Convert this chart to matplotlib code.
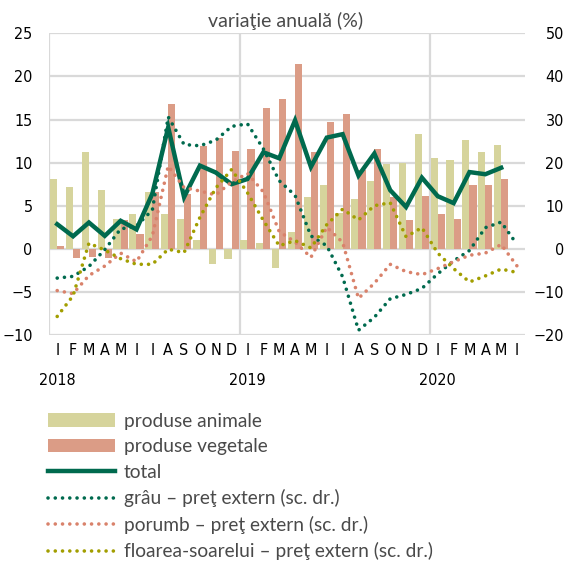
import matplotlib
matplotlib.use('Agg')
import matplotlib.pyplot as plt
import matplotlib.transforms as mtransforms
import numpy as np

# Months Jan 2018 - Jun 2020 (Romanian initials)
months = ["I", "F", "M", "A", "M", "I", "I", "A", "S", "O", "N", "D"] * 2 + ["I", "F", "M", "A", "M", "I"]
years = ["2018", "2019", "2020"]
year_pos = [0, 12, 24]

# left axis (%), Jan 2018 - May 2020
animale = [8.1, 7.2, 11.2, 6.8, 3.5, 4.0, 6.6, 4.0, 3.5, 1.0, -1.8, -1.2,
           1.0, 0.7, -2.2, 1.9, 6.0, 7.4, 4.2, 5.8, 7.9, 9.8, 10.0, 13.3,
           10.5, 10.3, 12.6, 11.2, 12.1, np.nan]
vegetale = [0.3, -1.1, -0.9, -1.1, 3.3, 1.7, 6.6, 16.8, 6.3, 11.9, 12.8, 11.4,
            11.6, 16.3, 17.4, 21.4, 11.2, 14.7, 15.6, 9.1, 11.6, 6.0, 3.3, 6.1,
            4.0, 3.5, 7.4, 7.4, 8.1, np.nan]
total = [2.85, 1.45, 3.05, 1.5, 3.25, 2.25, 6.4, 14.1, 6.0, 9.65, 8.85, 7.5,
         8.1, 11.2, 10.5, 14.9, 9.5, 12.9, 13.3, 8.5, 11.05, 6.8, 4.85, 8.25,
         6.1, 5.3, 8.9, 8.65, 9.4, np.nan]

# right axis (%), Jan 2018 - Jun 2020
grau = [-6.8, -6.4, -4.1, -0.2, 4.6, 5.3, 9.0, 30.6, 24.2, 23.9, 25.2, 28.4,
        29.0, 23.2, 15.8, 12.4, 3.0, 0.7, -6.5, -18.9, -15.9, -11.6, -10.6, -9.2,
        -5.8, -2.8, -0.4, 4.9, 6.2, 1.0]
porumb = [-9.7, -10.4, -6.2, -4.0, -1.0, -3.0, 3.0, 19.2, 14.2, 13.4, 12.5, 15.5,
          17.5, 13.2, 4.0, 1.6, -2.0, 5.0, 1.5, -11.5, -8.0, -3.6, -5.3, -6.0,
          -4.6, -3.0, -1.5, -1.0, 1.0, -4.0]
floarea = [-15.7, -10.9, 1.3, -0.3, -2.3, -3.6, -3.6, -0.1, -0.9, 7.3, 14.1, 18.4,
           13.0, 6.6, 0.7, 1.9, 0.2, 5.6, 9.2, 6.7, 10.0, 10.7, 2.8, 4.9,
           -1.0, -4.6, -7.7, -6.3, -4.7, -5.5]

c_anim = '#D6D49C'
c_veg = '#DB9C86'
c_green = '#006A4E'
c_porumb = '#D9826B'
c_floarea = '#A29E00'
c_grid = '#D9D9D9'
c_text = '#4A4A4A'

tick_font = ['Liberation Sans Narrow', 'DejaVu Sans']
text_font = ['Lato', 'DejaVu Sans']

fig = plt.figure(figsize=(5.71, 5.61), dpi=100)
ax = fig.add_axes([0.0863, 0.4029, 0.9194 - 0.0863, 0.9406 - 0.4029])
ax2 = ax.twinx()

x = np.arange(len(months))
w = 0.45
b1 = ax.bar(x - w / 2, animale, w, color=c_anim, label='produse animale', zorder=2)
b2 = ax.bar(x + w / 2, vegetale, w, color=c_veg, label='produse vegetale', zorder=2)
l0, = ax.plot(x, total, color=c_green, linewidth=3.2, label='total', zorder=4,
              solid_joinstyle='miter')

dot = (0, (0.01, 2.0))
l1, = ax2.plot(x, grau, color=c_green, linewidth=2.6, linestyle=dot, dash_capstyle='round',
               label='grâu – preţ extern (sc. dr.)')
l2, = ax2.plot(x, porumb, color=c_porumb, linewidth=2.6, linestyle=dot, dash_capstyle='round',
               label='porumb – preţ extern (sc. dr.)')
l3, = ax2.plot(x, floarea, color=c_floarea, linewidth=2.6, linestyle=dot, dash_capstyle='round',
               label='floarea-soarelui – preţ extern (sc. dr.)')

ax.set_xlim(-0.5, len(months) - 0.5)
ax.set_ylim(-10, 25)
ax2.set_ylim(-20, 50)
ax.set_yticks(range(-10, 26, 5))
ax2.set_yticks(range(-20, 51, 10))

# grid
for v in range(-10, 26, 5):
    ax.axhline(v, color=c_grid, linewidth=1.6, zorder=0)
for p in year_pos:
    ax.axvline(p - 0.5, color=c_grid, linewidth=1.6, zorder=0)

for a in (ax, ax2):
    for s in a.spines.values():
        s.set_visible(False)
    a.tick_params(length=0)

ax.set_xticks(x)
ax.set_xticklabels(months)
ax.tick_params(axis='x', pad=6)
ax.tick_params(axis='y', pad=12)
ax2.tick_params(axis='y', pad=28)
for lab in ax.get_xticklabels() + ax.get_yticklabels() + ax2.get_yticklabels():
    lab.set_fontfamily(tick_font)
    lab.set_fontstretch('condensed')
    lab.set_fontsize(11.5)
    lab.set_color('black')
for lab in ax2.get_yticklabels():
    lab.set_horizontalalignment('right')

trans = mtransforms.blended_transform_factory(ax.transData, ax.transAxes)
for yr, p in zip(years, year_pos):
    ax.text(p, -0.152, yr, transform=trans, ha='center', va='center',
            fontsize=11.5, family=tick_font, stretch='condensed', color='black')

fig.text(0.50, 0.963, 'variaţie anuală (%)', ha='center', va='center',
         fontsize=14, family=text_font, color=c_text)

leg = fig.legend([b1, b2, l0, l1, l2, l3],
                 [h.get_label() for h in (b1, b2, l0, l1, l2, l3)],
                 loc='upper left', bbox_to_anchor=(0.084, 0.264),
                 frameon=False, handlelength=3.5, handletextpad=0.45,
                 labelspacing=0.44, borderaxespad=0, borderpad=0,
                 prop={'family': text_font, 'size': 13.8})
for t in leg.get_texts():
    t.set_color(c_text)

fig.savefig('out.png', dpi=100)
